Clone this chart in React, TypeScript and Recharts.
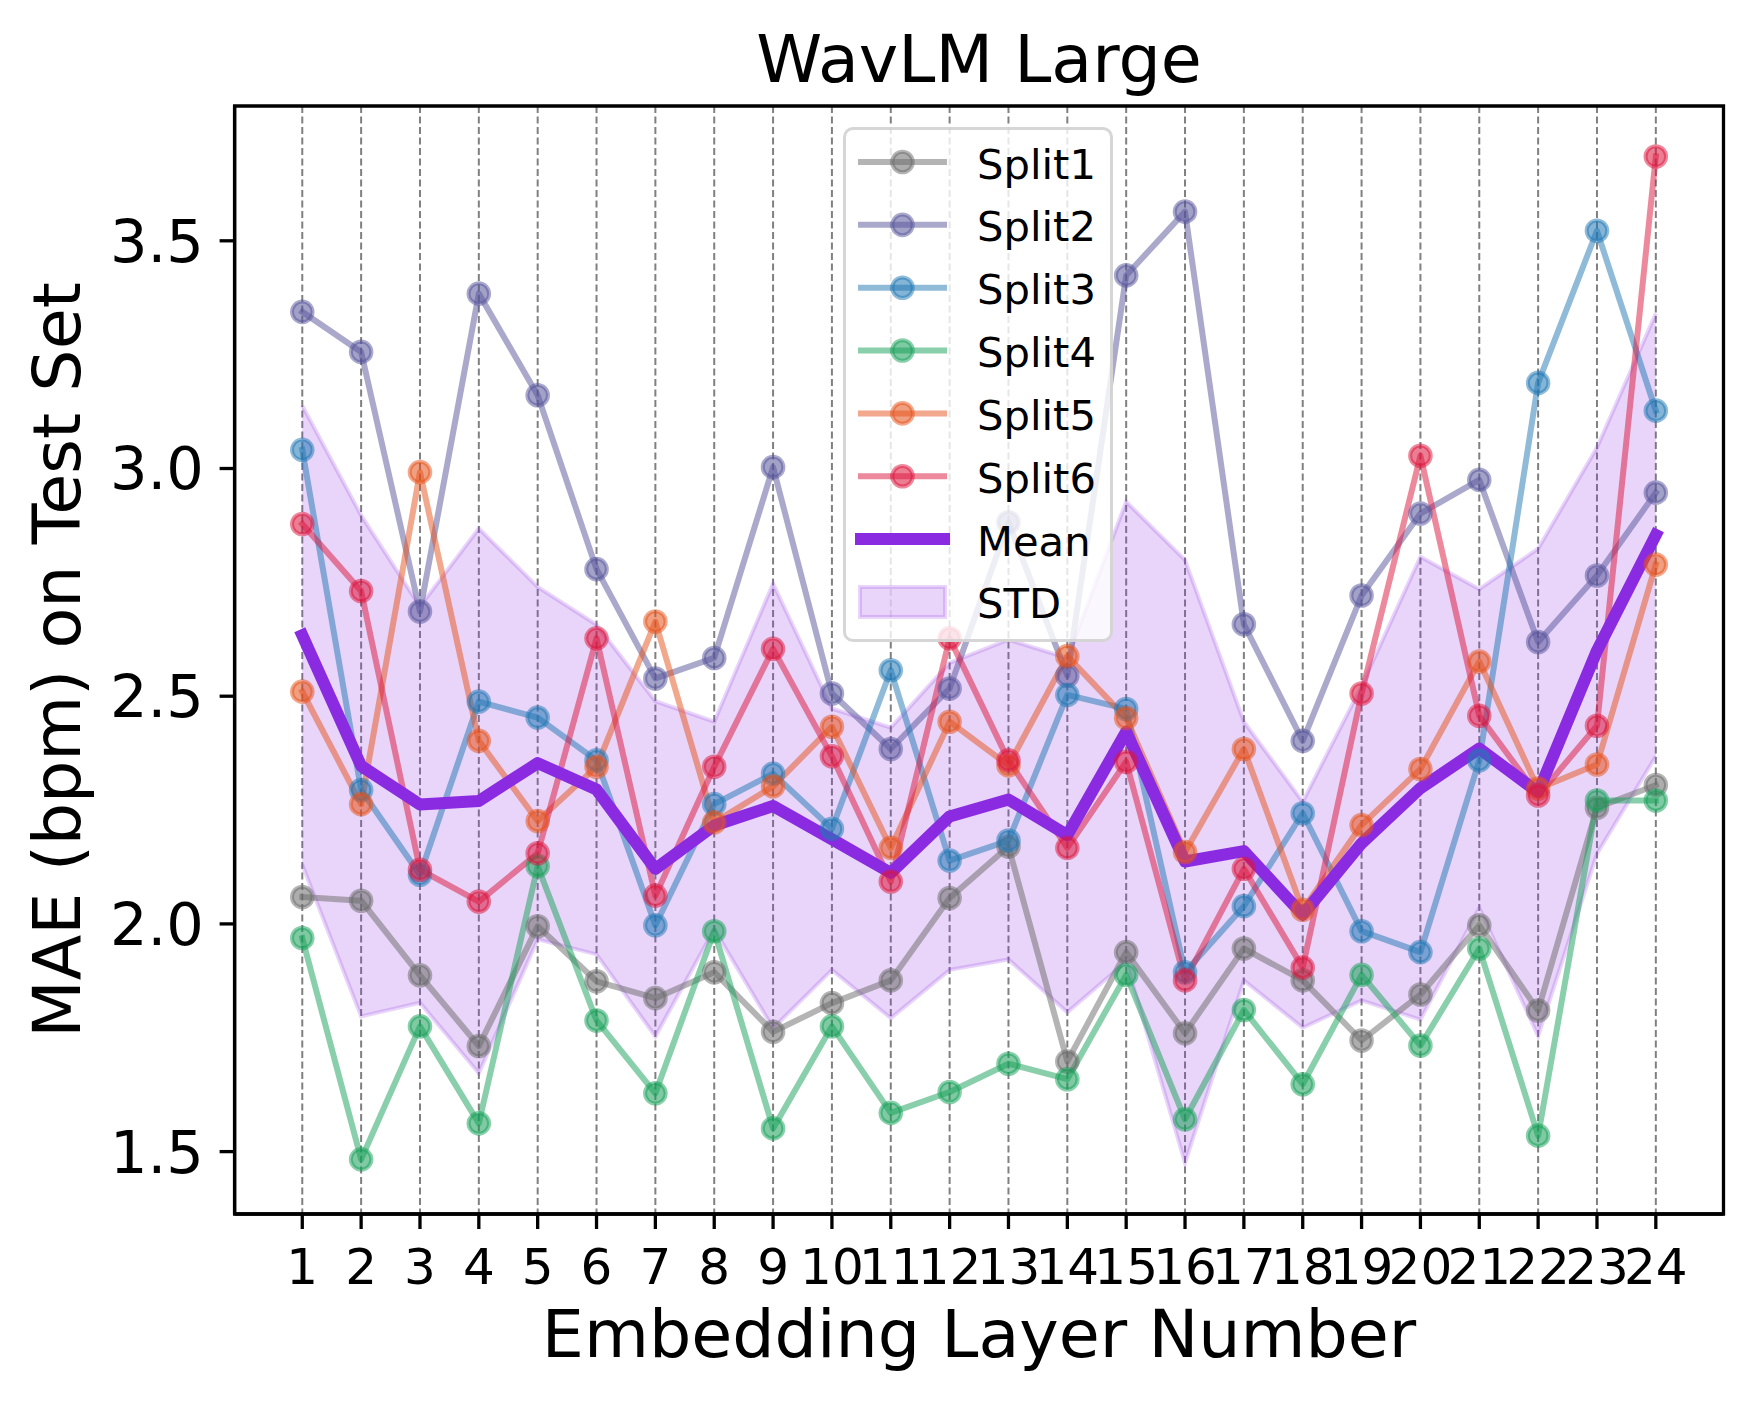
import React from 'react';
import { ComposedChart, Line, Area, XAxis, YAxis, CartesianGrid, Legend, ReferenceArea } from 'recharts';

const layers = [1, 2, 3, 4, 5, 6, 7, 8, 9, 10, 11, 12, 13, 14, 15, 16, 17, 18, 19, 20, 21, 22, 23, 24];

const split1 = [2.059, 2.051, 1.887, 1.732, 1.995, 1.874, 1.837, 1.894, 1.763, 1.826, 1.876, 2.057, 2.170, 1.698, 1.938, 1.760, 1.946, 1.876, 1.744, 1.845, 1.997, 1.810, 2.255, 2.305];
const split2 = [3.344, 3.256, 2.686, 3.384, 3.161, 2.779, 2.539, 2.584, 3.003, 2.506, 2.384, 2.517, 2.882, 2.545, 3.424, 3.564, 2.658, 2.402, 2.721, 2.901, 2.975, 2.619, 2.765, 2.947];
const split3 = [3.041, 2.294, 2.108, 2.488, 2.453, 2.359, 1.997, 2.263, 2.330, 2.209, 2.557, 2.139, 2.183, 2.503, 2.472, 1.894, 2.039, 2.243, 1.984, 1.938, 2.359, 3.188, 3.522, 3.127];
const split4 = [1.969, 1.483, 1.775, 1.562, 2.127, 1.788, 1.628, 1.984, 1.551, 1.775, 1.585, 1.631, 1.693, 1.659, 1.888, 1.571, 1.811, 1.648, 1.888, 1.733, 1.946, 1.535, 2.271, 2.271];
const split5 = [2.510, 2.263, 2.992, 2.402, 2.226, 2.345, 2.664, 2.223, 2.302, 2.433, 2.167, 2.444, 2.348, 2.588, 2.452, 2.158, 2.384, 2.031, 2.217, 2.340, 2.576, 2.297, 2.350, 2.789];
const split6 = [2.878, 2.731, 2.119, 2.049, 2.155, 2.627, 2.062, 2.345, 2.604, 2.368, 2.093, 2.627, 2.359, 2.167, 2.356, 1.876, 2.121, 1.904, 2.506, 3.028, 2.457, 2.282, 2.435, 3.685];

const meanValues = [2.634, 2.347, 2.262, 2.270, 2.353, 2.295, 2.121, 2.216, 2.259, 2.186, 2.112, 2.236, 2.273, 2.195, 2.422, 2.137, 2.160, 2.020, 2.177, 2.298, 2.385, 2.289, 2.600, 2.854];
const stdLower = [2.130, 1.797, 1.827, 1.672, 1.966, 1.933, 1.753, 1.988, 1.771, 1.899, 1.793, 1.899, 1.922, 1.806, 1.917, 1.475, 1.876, 1.772, 1.832, 1.790, 2.035, 1.754, 2.154, 2.368];
const stdUpper = [3.138, 2.897, 2.697, 2.868, 2.740, 2.657, 2.489, 2.444, 2.747, 2.473, 2.431, 2.573, 2.624, 2.584, 2.927, 2.799, 2.444, 2.268, 2.522, 2.806, 2.735, 2.824, 3.046, 3.340];

const splitNames = ['Split1', 'Split2', 'Split3', 'Split4', 'Split5', 'Split6'];
const splitKeys = ['split1', 'split2', 'split3', 'split4', 'split5', 'split6'];
const splitColors = ['#696969', '#555399', '#1f77b4', '#159f57', '#e55119', '#dc143c'];
const splitSeries = [split1, split2, split3, split4, split5, split6];

const meanColor = '#8a2be2';
const yTicks = [1.5, 2.0, 2.5, 3.0, 3.5];
const xTicks = layers;
const xDomain = [-0.15, 25.15];
const yDomain = [1.363, 3.796];

const chartTitle = 'WavLM Large';
const xLabel = 'Embedding Layer Number';
const yLabel = 'MAE (bpm) on Test Set';

const data = layers.map((layer, i) => {
  const row: any = { layer, mean: meanValues[i], std: [stdLower[i], stdUpper[i]] };
  splitKeys.forEach((k, j) => {
    row[k] = splitSeries[j][i];
  });
  return row;
});

const FONT = "'DejaVu Sans', sans-serif";

const W = 1752;
const H = 1405;
const PLOT_LEFT = 234.6;
const PLOT_RIGHT = 1723.5;
const PLOT_TOP = 106;
const PLOT_BOTTOM = 1214;

const LEG_W = 270;
const LEG_H = 515;

const renderLegend = () => {
  const rowStart = 35;
  const rowStep = 62.85;
  const textDy = 16.5;
  return (
    <div style={{ position: 'relative', width: LEG_W, height: LEG_H }}>
      <div
        style={{
          position: 'absolute',
          left: 0,
          top: 0,
          width: LEG_W,
          height: LEG_H,
          boxSizing: 'border-box',
          border: '3.3px solid rgba(204,204,204,0.8)',
          borderRadius: 10,
          background: 'rgba(255,255,255,0.8)',
        }}
      />
      <svg width={LEG_W} height={LEG_H} style={{ position: 'absolute', left: 0, top: 0 }}>
        {splitNames.map((name, i) => {
          const cy = rowStart + i * rowStep;
          const c = splitColors[i];
          return (
            <g key={name}>
              <line x1={18} x2={101} y1={cy} y2={cy} stroke={c} strokeOpacity={0.5} strokeWidth={6} strokeLinecap="square" />
              <circle cx={59.5} cy={cy} r={10.3} fill={c} fillOpacity={0.55} stroke={c} strokeOpacity={0.5} strokeWidth={4} />
              <text x={134} y={cy + textDy} fontSize={41.7} fontFamily={FONT} fill="#000">
                {name}
              </text>
            </g>
          );
        })}
        <g>
          <line x1={18} x2={101} y1={rowStart + 6 * rowStep} y2={rowStart + 6 * rowStep} stroke={meanColor} strokeWidth={12} strokeLinecap="square" />
          <text x={134} y={rowStart + 6 * rowStep + textDy} fontSize={41.7} fontFamily={FONT} fill="#000">
            Mean
          </text>
        </g>
        <g>
          <rect x={17} y={rowStart + 7 * rowStep - 15} width={85} height={30} fill={meanColor} fillOpacity={0.2} stroke={meanColor} strokeOpacity={0.2} strokeWidth={4} />
          <text x={134} y={rowStart + 7 * rowStep + textDy} fontSize={41.7} fontFamily={FONT} fill="#000">
            STD
          </text>
        </g>
      </svg>
    </div>
  );
};

export default function App() {
  return (
    <div style={{ position: 'absolute', left: 0, top: 0, width: W, height: H, background: '#fff', fontFamily: FONT }}>
      <ComposedChart
        width={W}
        height={H}
        data={data}
        margin={{ top: PLOT_TOP, right: W - PLOT_RIGHT, bottom: 0, left: 0 }}
      >
        <CartesianGrid
          horizontal={false}
          vertical={true}
          stroke="#808080"
          strokeWidth={2}
          strokeDasharray="7 3.5"
        />
        <XAxis
          dataKey="layer"
          type="number"
          domain={xDomain}
          allowDataOverflow
          ticks={xTicks}
          interval={0}
          height={H - PLOT_BOTTOM}
          tickSize={15}
          tickMargin={19}
          axisLine={{ stroke: '#000', strokeWidth: 3.3 }}
          tickLine={{ stroke: '#000', strokeWidth: 3.3 }}
          tick={{ fontSize: 50, fill: '#000', fontFamily: FONT }}
        />
        <YAxis
          type="number"
          domain={yDomain}
          allowDataOverflow
          ticks={yTicks}
          width={PLOT_LEFT}
          tickSize={15}
          tickMargin={15.7}
          tickFormatter={(v: number) => v.toFixed(1)}
          axisLine={{ stroke: '#000', strokeWidth: 3.3 }}
          tickLine={{ stroke: '#000', strokeWidth: 3.3 }}
          tick={{ fontSize: 59, fill: '#000', fontFamily: FONT }}
        />
        <Area
          dataKey="std"
          type="linear"
          fill={meanColor}
          fillOpacity={0.2}
          stroke={meanColor}
          strokeOpacity={0.2}
          strokeWidth={4}
          isAnimationActive={false}
          activeDot={false}
          dot={false}
          name="STD"
        />
        {splitKeys.map((k, i) => (
          <Line
            key={k}
            dataKey={k}
            name={splitNames[i]}
            type="linear"
            stroke={splitColors[i]}
            strokeOpacity={0.5}
            strokeWidth={6}
            strokeLinecap="square"
            strokeLinejoin="round"
            dot={{ r: 10.3, fill: splitColors[i], fillOpacity: 0.55, stroke: splitColors[i], strokeOpacity: 0.5, strokeWidth: 4 }}
            activeDot={false}
            isAnimationActive={false}
          />
        ))}
        <Line
          dataKey="mean"
          name="Mean"
          type="linear"
          stroke={meanColor}
          strokeWidth={12}
          strokeLinecap="square"
          strokeLinejoin="round"
          dot={false}
          activeDot={false}
          isAnimationActive={false}
        />
        <ReferenceArea
          x1={xDomain[0]}
          x2={xDomain[1]}
          y1={yDomain[0]}
          y2={yDomain[1]}
          fill="none"
          fillOpacity={0}
          stroke="#000"
          strokeWidth={3.3}
          strokeOpacity={1}
          ifOverflow="visible"
        />
        <Legend
          content={renderLegend}
          layout="horizontal"
          verticalAlign="middle"
          align="center"
          wrapperStyle={{ position: 'absolute', left: 843, top: 127, width: LEG_W, height: LEG_H, margin: 0 }}
        />
      </ComposedChart>
      <svg width={W} height={H} style={{ position: 'absolute', left: 0, top: 0, pointerEvents: 'none' }}>
        <text x={(PLOT_LEFT + PLOT_RIGHT) / 2} y={82} textAnchor="middle" fontSize={66.7} fontFamily={FONT} fill="#000">
          {chartTitle}
        </text>
        <text x={(PLOT_LEFT + PLOT_RIGHT) / 2} y={1357} textAnchor="middle" fontSize={66.7} fontFamily={FONT} fill="#000">
          {xLabel}
        </text>
        <text
          x={80}
          y={(PLOT_TOP + PLOT_BOTTOM) / 2}
          transform={`rotate(-90, 80, ${(PLOT_TOP + PLOT_BOTTOM) / 2})`}
          textAnchor="middle"
          fontSize={66.7}
          fontFamily={FONT}
          fill="#000"
        >
          {yLabel}
        </text>
      </svg>
    </div>
  );
}
